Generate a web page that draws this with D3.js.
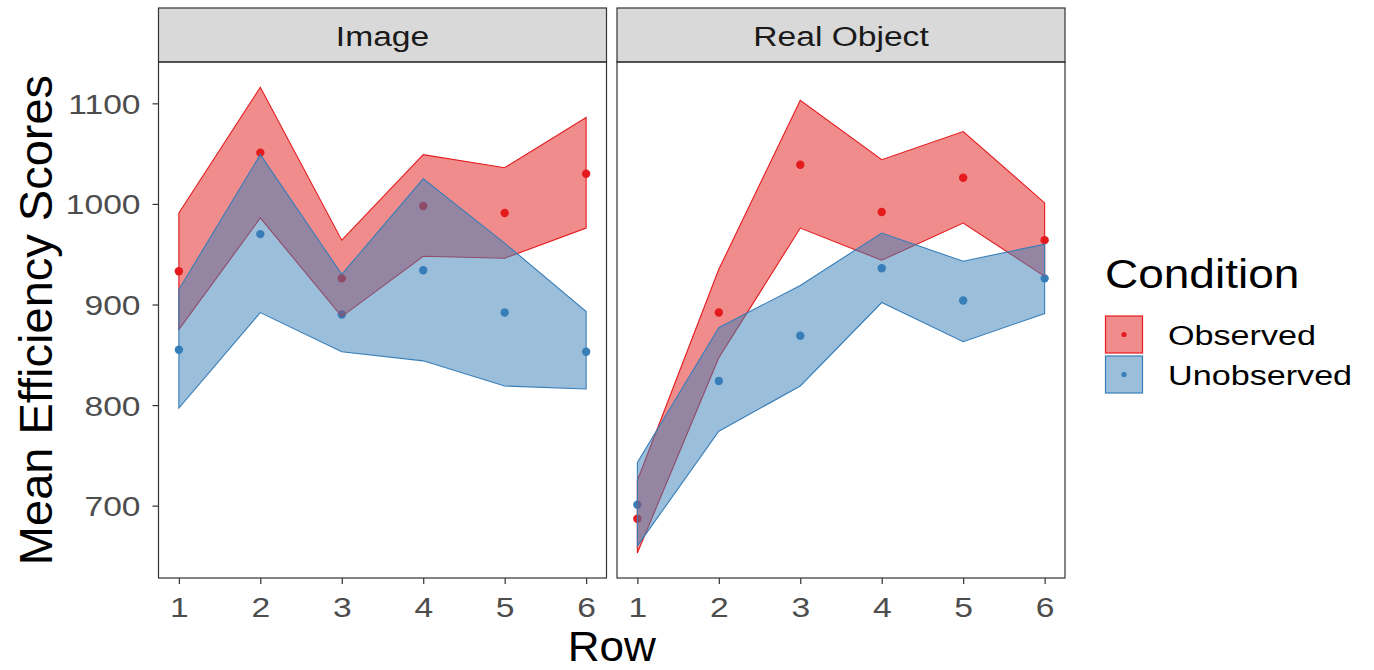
<!DOCTYPE html>
<html>
<head>
<meta charset="utf-8">
<script src="https://cdn.jsdelivr.net/npm/d3@7"></script>
<style>
  body { margin: 0; background: #fff; }
  text { font-family: "Liberation Sans", Arial, sans-serif; }
</style>
</head>
<body>
<script>
// data
const rows = [1, 2, 3, 4, 5, 6]
const panels = ["Image", "Real Object"]
const conditions = ["Observed", "Unobserved"]
const yTicks = [700, 800, 900, 1000, 1100]

// Image panel
const imgObsMean  = [933, 1051, 926, 998, 991, 1030]
const imgObsUpper = [991, 1116, 964, 1049, 1036, 1086]
const imgObsLower = [875, 986, 888, 948, 946, 976]
const imgUnoMean  = [855, 970, 890, 934, 892, 853]
const imgUnoUpper = [915, 1049, 930, 1025, 961, 893]
const imgUnoLower = [797, 892, 853, 844, 819, 816]

// Real Object panel
const realObsMean  = [687, 892, 1039, 992, 1026, 964]
const realObsUpper = [725, 935, 1103, 1044, 1072, 1001]
const realObsLower = [653, 847, 976, 944, 981, 928]
const realUnoMean  = [701, 824, 869, 936, 904, 926]
const realUnoUpper = [743, 877, 919, 971, 943, 960]
const realUnoLower = [660, 774, 819, 902, 863, 891]

const colors = {"Observed": "#E41A1C", "Unobserved": "#377EB8"}

// build series per panel
function series(mean, upper, lower) {
    return rows.map((r, i) => ({row: r, mean: mean[i], upper: upper[i], lower: lower[i]}))
}
const panelData = {
    "Image": {"Observed": series(imgObsMean, imgObsUpper, imgObsLower),
              "Unobserved": series(imgUnoMean, imgUnoUpper, imgUnoLower)},
    "Real Object": {"Observed": series(realObsMean, realObsUpper, realObsLower),
                    "Unobserved": series(realUnoMean, realUnoUpper, realUnoLower)}
}

const W = 1374, H = 670
const svg = d3.select("body").append("svg")
    .attr("width", W)
    .attr("height", H)

// layout
const panelLeft = [158.5, 617]
const panelWidth = 448
const panelTop = 62, panelBottom = 578
const stripTop = 8
const sx = 1.2 // text in the picture is stretched sideways

const y = d3.scaleLinear()
    .domain([628.1, 1141.1])
    .range([panelBottom, panelTop])

const grey20 = "#333333"
const grey30 = "#4D4D4D"

panels.forEach((name, p) => {
    const x0 = panelLeft[p]
    const x = d3.scaleLinear()
        .domain([0.75, 6.25])
        .range([x0, x0 + panelWidth])

    const g = svg.append("g")

    // strip
    g.append("rect")
        .attr("x", x0).attr("y", stripTop)
        .attr("width", panelWidth).attr("height", panelTop - stripTop)
        .attr("fill", "#D9D9D9")
        .attr("stroke", grey20).attr("stroke-width", 1.2)
    g.append("text")
        .attr("transform", `translate(${x0 + panelWidth / 2}, 46) scale(${sx},1)`)
        .attr("text-anchor", "middle")
        .style("font-size", "28px")
        .attr("fill", "#1A1A1A")
        .text(name)

    // clip
    const clipId = "clip" + p
    svg.append("clipPath").attr("id", clipId)
        .append("rect")
        .attr("x", x0).attr("y", panelTop)
        .attr("width", panelWidth).attr("height", panelBottom - panelTop)

    const plot = g.append("g").attr("clip-path", `url(#${clipId})`)

    // points first, ribbons are drawn over them
    conditions.forEach(c => {
        plot.selectAll(null)
            .data(panelData[name][c])
            .enter()
            .append("circle")
            .attr("cx", d => x(d.row))
            .attr("cy", d => y(d.mean))
            .attr("r", 4.2)
            .attr("fill", colors[c])
    })

    const area = d3.area()
        .x(d => x(d.row))
        .y0(d => y(d.lower))
        .y1(d => y(d.upper))

    conditions.forEach(c => {
        plot.append("path")
            .datum(panelData[name][c])
            .attr("d", area)
            .attr("fill", colors[c])
            .attr("fill-opacity", 0.5)
            .attr("stroke", colors[c])
            .attr("stroke-width", 1.1)
            .attr("stroke-linejoin", "miter")
    })

    // panel border
    g.append("rect")
        .attr("x", x0).attr("y", panelTop)
        .attr("width", panelWidth).attr("height", panelBottom - panelTop)
        .attr("fill", "none")
        .attr("stroke", grey20).attr("stroke-width", 1.2)

    // x axis
    const xAxis = g.append("g")
        .attr("transform", `translate(0, ${panelBottom})`)
        .call(d3.axisBottom(x).tickValues(rows).tickFormat(d3.format("d")).tickSize(6).tickSizeOuter(0))
    xAxis.select(".domain").remove()
    xAxis.selectAll(".tick line").attr("stroke", grey20).attr("stroke-width", 1.2)
    xAxis.selectAll(".tick text")
        .attr("y", 0).attr("dy", 0)
        .attr("transform", `translate(0, 39) scale(${sx},1)`)
        .attr("fill", grey30)
        .style("font-size", "28px")
        .style("font-family", "Liberation Sans, Arial, sans-serif")

    // y axis only on first panel
    if (p === 0) {
        const yAxis = g.append("g")
            .attr("transform", `translate(${x0}, 0)`)
            .call(d3.axisLeft(y).tickValues(yTicks).tickFormat(d3.format("d")).tickSize(6).tickSizeOuter(0))
        yAxis.select(".domain").remove()
        yAxis.selectAll(".tick line").attr("stroke", grey20).attr("stroke-width", 1.2)
        yAxis.selectAll(".tick text")
            .attr("x", 0).attr("dy", 0)
            .attr("text-anchor", "end")
            .attr("transform", `translate(-18, 10) scale(${sx},1)`)
            .attr("fill", grey30)
            .style("font-size", "28px")
            .style("font-family", "Liberation Sans, Arial, sans-serif")
    }
})

// axis titles
svg.append("text")
    .attr("transform", `translate(52, ${(panelTop + panelBottom) / 2}) rotate(-90)`)
    .attr("text-anchor", "middle")
    .style("font-size", "47px")
    .text("Mean Efficiency Scores")

svg.append("text")
    .attr("transform", `translate(${(panelLeft[0] + panelLeft[1] + panelWidth) / 2}, 661) scale(1.05,1)`)
    .attr("text-anchor", "middle")
    .style("font-size", "42px")
    .text("Row")

// legend
const legend = svg.append("g").attr("transform", "translate(1105, 0)")
legend.append("text")
    .attr("transform", `translate(0, 288) scale(1.15,1)`)
    .style("font-size", "40px")
    .text("Condition")

conditions.forEach((c, i) => {
    const ky = 316 + i * 40
    legend.append("rect")
        .attr("x", 0.5).attr("y", ky)
        .attr("width", 37).attr("height", 37)
        .attr("fill", colors[c]).attr("fill-opacity", 0.5)
        .attr("stroke", colors[c]).attr("stroke-width", 1.2)
    legend.append("circle")
        .attr("cx", 19).attr("cy", ky + 18.5)
        .attr("r", 2.6)
        .attr("fill", colors[c])
    legend.append("text")
        .attr("transform", `translate(63, ${ky + 29}) scale(1.22,1)`)
        .style("font-size", "28px")
        .text(c)
})
</script>
</body>
</html>
